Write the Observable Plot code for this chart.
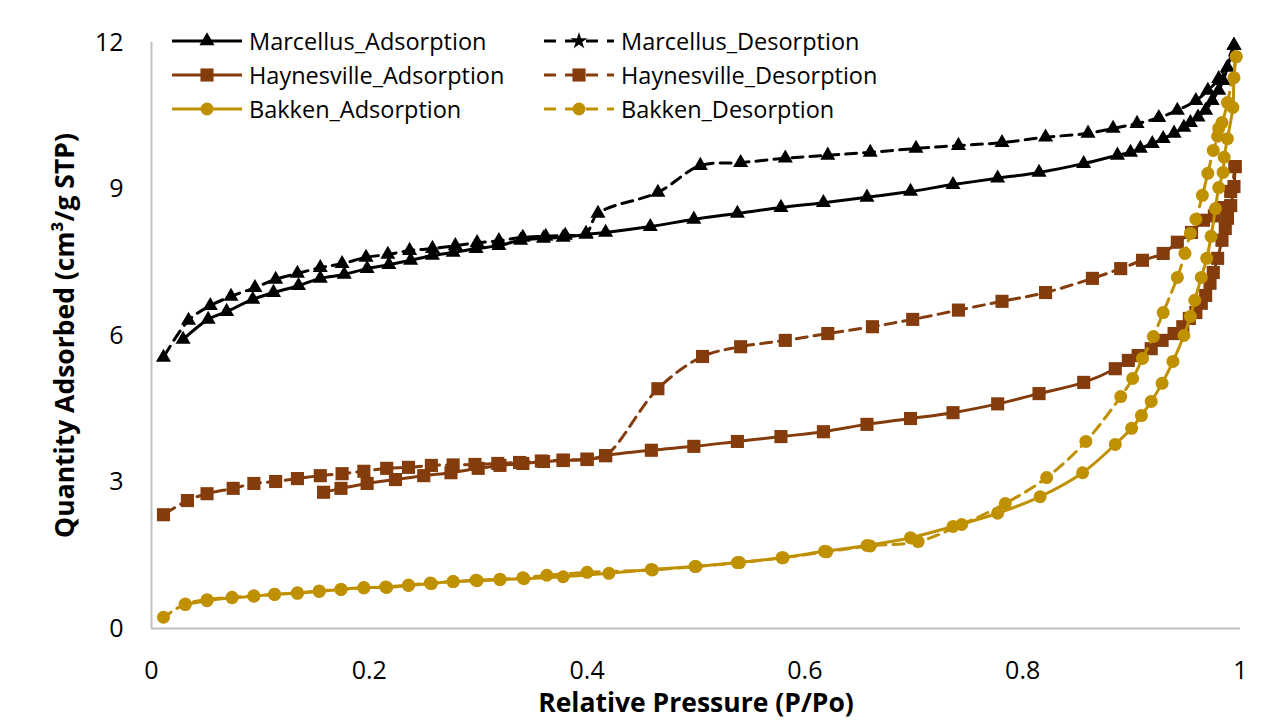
<!DOCTYPE html>
<html>
<head>
<meta charset="utf-8">
<script src="https://cdn.jsdelivr.net/npm/d3@7"></script>
<script src="https://cdn.jsdelivr.net/npm/@observablehq/plot@0.6"></script>
<style>
  html, body { margin: 0; padding: 0; background: #fff; }
  #wrap { position: relative; width: 1276px; height: 721px; font-family: "Open Sans", sans-serif; }
  #legend { position: absolute; left: 172px; top: 24px; display: grid; grid-template-columns: 372px auto; row-gap: 0px; }
  .item { display: flex; align-items: center; height: 34px; font-size: 23.5px; color: #000; }
  .item svg { margin-right: 7px; }
</style>
</head>
<body>
<div id="wrap"><div id="legend"></div></div>
<script>
// ---- data (relative pressure P/Po, quantity adsorbed cm3/g STP) ----
const marcellusAds = [
  [0.029,5.92],[0.052,6.33],[0.069,6.49],[0.093,6.74],[0.112,6.88],[0.135,7.02],[0.155,7.17],[0.177,7.25],
  [0.198,7.37],[0.218,7.45],[0.238,7.54],[0.258,7.64],[0.277,7.70],[0.298,7.78],[0.319,7.84],[0.339,7.95],
  [0.360,7.99],[0.378,8.01],[0.399,8.07],[0.417,8.11],[0.458,8.23],[0.498,8.38],[0.538,8.50],[0.578,8.62],
  [0.617,8.72],[0.657,8.83],[0.697,8.95],[0.736,9.09],[0.777,9.22],[0.815,9.34],[0.856,9.52],[0.887,9.69],
  [0.899,9.75],[0.908,9.83],[0.919,9.93],[0.929,10.03],[0.939,10.14],[0.948,10.26],[0.954,10.36],[0.961,10.47],
  [0.968,10.61],[0.974,10.81],[0.980,11.02],[0.984,11.22],[0.988,11.49],[0.994,11.94]
];
const marcellusDes = [
  [0.994,11.94],[0.980,11.26],[0.970,11.02],[0.959,10.81],[0.942,10.61],[0.925,10.46],[0.905,10.34],[0.883,10.24],
  [0.860,10.14],[0.821,10.06],[0.781,9.95],[0.741,9.89],[0.702,9.83],[0.660,9.75],[0.621,9.69],[0.582,9.63],
  [0.541,9.54],[0.504,9.48],[0.465,8.93],[0.410,8.50],[0.399,8.09],[0.380,8.05],[0.362,8.03],[0.341,8.01],
  [0.319,7.94],[0.299,7.90],[0.279,7.84],[0.258,7.78],[0.237,7.74],[0.217,7.66],[0.197,7.60],[0.175,7.47],
  [0.155,7.39],[0.134,7.27],[0.114,7.15],[0.095,6.98],[0.073,6.80],[0.054,6.61],[0.034,6.31],[0.011,5.55]
];
const haynesvilleAds = [
  [0.158,2.79],[0.174,2.87],[0.198,2.97],[0.224,3.05],[0.250,3.13],[0.275,3.19],[0.300,3.28],[0.320,3.34],
  [0.341,3.38],[0.360,3.42],[0.378,3.44],[0.400,3.46],[0.417,3.54],[0.459,3.65],[0.498,3.73],[0.538,3.83],
  [0.578,3.93],[0.617,4.03],[0.657,4.18],[0.697,4.30],[0.736,4.42],[0.777,4.60],[0.815,4.81],[0.856,5.04],
  [0.885,5.32],[0.897,5.49],[0.906,5.59],[0.918,5.73],[0.928,5.90],[0.939,6.04],[0.947,6.18],[0.953,6.35],
  [0.959,6.47],[0.964,6.66],[0.968,6.82],[0.972,7.07],[0.975,7.29],[0.979,7.58],[0.983,7.95],[0.986,8.19],
  [0.988,8.40],[0.991,8.66],[0.994,9.05],[0.995,9.46]
];
const haynesvilleDes = [
  [0.995,9.46],[0.991,8.95],[0.984,8.62],[0.976,8.45],[0.966,8.36],[0.955,8.11],[0.942,7.91],[0.929,7.68],
  [0.910,7.54],[0.890,7.37],[0.864,7.17],[0.821,6.88],[0.781,6.70],[0.741,6.52],[0.699,6.33],[0.662,6.18],
  [0.621,6.04],[0.582,5.90],[0.541,5.77],[0.506,5.57],[0.465,4.91],[0.417,3.54],[0.400,3.47],[0.378,3.45],
  [0.358,3.43],[0.338,3.40],[0.318,3.38],[0.297,3.36],[0.277,3.35],[0.257,3.34],[0.236,3.30],[0.216,3.28],
  [0.195,3.22],[0.175,3.17],[0.155,3.13],[0.134,3.07],[0.114,3.01],[0.094,2.97],[0.075,2.87],[0.051,2.76],
  [0.033,2.62],[0.011,2.33]
];
const bakkenAds = [
  [0.031,0.49],[0.051,0.57],[0.074,0.63],[0.094,0.66],[0.113,0.70],[0.134,0.72],[0.154,0.76],[0.174,0.80],
  [0.195,0.84],[0.216,0.84],[0.236,0.88],[0.257,0.92],[0.277,0.96],[0.299,0.98],[0.320,1.00],[0.342,1.02],
  [0.378,1.06],[0.420,1.13],[0.459,1.21],[0.499,1.27],[0.538,1.35],[0.579,1.45],[0.618,1.58],[0.657,1.70],
  [0.697,1.86],[0.736,2.09],[0.777,2.36],[0.816,2.70],[0.855,3.19],[0.885,3.77],[0.900,4.10],[0.909,4.36],
  [0.918,4.65],[0.928,5.02],[0.938,5.47],[0.948,6.00],[0.954,6.39],[0.958,6.72],[0.964,7.19],[0.969,7.58],
  [0.973,8.03],[0.977,8.60],[0.980,9.03],[0.984,9.34],[0.985,9.65],[0.988,10.03],[0.993,10.67],[0.994,11.28],
  [0.996,11.71]
];
const bakkenDes = [
  [0.996,11.71],[0.988,10.77],[0.983,10.36],[0.980,10.24],[0.979,10.08],[0.975,9.79],[0.970,9.32],[0.965,8.87],
  [0.959,8.38],[0.954,8.09],[0.949,7.68],[0.942,7.19],[0.929,6.47],[0.920,5.98],[0.910,5.53],[0.901,5.12],
  [0.890,4.75],[0.858,3.83],[0.822,3.09],[0.784,2.56],[0.744,2.13],[0.704,1.78],[0.660,1.69],[0.620,1.57],
  [0.580,1.45],[0.540,1.35],[0.500,1.27],[0.460,1.20],[0.400,1.15],[0.363,1.09],[0.341,1.04],[0.320,1.01],
  [0.298,0.99],[0.277,0.96],[0.256,0.93],[0.236,0.89],[0.215,0.85],[0.195,0.83],[0.174,0.80],[0.154,0.77],
  [0.134,0.73],[0.113,0.70],[0.094,0.67],[0.074,0.64],[0.051,0.59],[0.031,0.50],[0.011,0.23]
];

const xTicks = [0, 0.2, 0.4, 0.6, 0.8, 1];
const yTicks = [0, 3, 6, 9, 12];
const xTitle = "Relative Pressure (P/Po)";
const yTitle = "Quantity Adsorbed (cm³/g STP)";

// series definitions (name, data, colour, dashed, symbol, marker radius)
const series = [
  {name: "Marcellus_Adsorption",   data: marcellusAds,   color: "#000000", dash: false, symbol: "triangle", r: 5.6, legendSymbol: "triangle"},
  {name: "Marcellus_Desorption",   data: marcellusDes,   color: "#000000", dash: true,  symbol: "triangle", r: 5.6, legendSymbol: "star"},
  {name: "Haynesville_Adsorption", data: haynesvilleAds, color: "#843C0C", dash: false, symbol: "square",   r: 7.4, legendSymbol: "square"},
  {name: "Haynesville_Desorption", data: haynesvilleDes, color: "#843C0C", dash: true,  symbol: "square",   r: 7.4, legendSymbol: "square"},
  {name: "Bakken_Adsorption",      data: bakkenAds,      color: "#BF9000", dash: false, symbol: "circle",   r: 6.5, legendSymbol: "circle"},
  {name: "Bakken_Desorption",      data: bakkenDes,      color: "#BF9000", dash: true,  symbol: "circle",   r: 6.5, legendSymbol: "circle"}
];

const marks = [
  Plot.ruleY([0], {stroke: "#bfbfbf", strokeWidth: 2}),
  Plot.ruleX([0], {stroke: "#bfbfbf", strokeWidth: 2})
];
for (const s of series) {
  marks.push(Plot.line(s.data, {x: d => d[0], y: d => d[1], stroke: s.color, strokeWidth: 3,
    strokeDasharray: s.dash ? "11,7" : null, curve: "catmull-rom"}));
  marks.push(Plot.dot(s.data, {x: d => d[0], y: d => d[1], symbol: () => s.symbol, r: s.r, fill: s.color, stroke: "none"}));
}
marks.push(
  Plot.axisX({ticks: xTicks, tickSize: 0, tickPadding: 33, tickFormat: d => String(d), fontSize: 25}),
  Plot.axisY({ticks: yTicks, tickSize: 0, tickPadding: 28, fontSize: 25}),
  Plot.text([xTitle], {frameAnchor: "bottom", textAnchor: "middle", dy: 83, fontWeight: "bold", fontSize: 26.5, text: d => d}),
  Plot.text([yTitle], {frameAnchor: "left", textAnchor: "middle", dx: -86, rotate: -90, fontWeight: "bold", fontSize: 26.5, text: d => d})
);

const chart = Plot.plot({
  width: 1276, height: 721,
  marginLeft: 151, marginRight: 36, marginTop: 42, marginBottom: 93,
  x: {domain: [0, 1], label: null},
  y: {domain: [0, 12], label: null},
  symbol: {type: "identity"},
  style: {fontFamily: "'Open Sans', sans-serif", color: "#000", background: "#fff", overflow: "visible"},
  marks
});
const wrap = document.getElementById("wrap");
wrap.insertBefore(chart, wrap.firstChild);

// legend (two columns: adsorption | desorption)
const legend = document.getElementById("legend");
for (const s of series) {
  const item = document.createElement("div");
  item.className = "item";
  const svg = d3.create("svg").attr("width", 70).attr("height", 20);
  svg.append("line").attr("x1", 0).attr("x2", 70).attr("y1", 10).attr("y2", 10)
    .attr("stroke", s.color).attr("stroke-width", 3)
    .attr("stroke-dasharray", s.dash ? "12,9" : null);
  const sym = {triangle: d3.symbolTriangle, star: d3.symbolStar, square: d3.symbolSquare, circle: d3.symbolCircle}[s.legendSymbol];
  const size = Math.PI * s.r * s.r * (s.legendSymbol === "star" ? 0.9 : 1);
  svg.append("path").attr("transform", "translate(35,10)").attr("d", d3.symbol(sym, size)()).attr("fill", s.color);
  item.appendChild(svg.node());
  const t = document.createElement("span");
  t.textContent = s.name;
  item.appendChild(t);
  legend.appendChild(item);
}
</script>
</body>
</html>
